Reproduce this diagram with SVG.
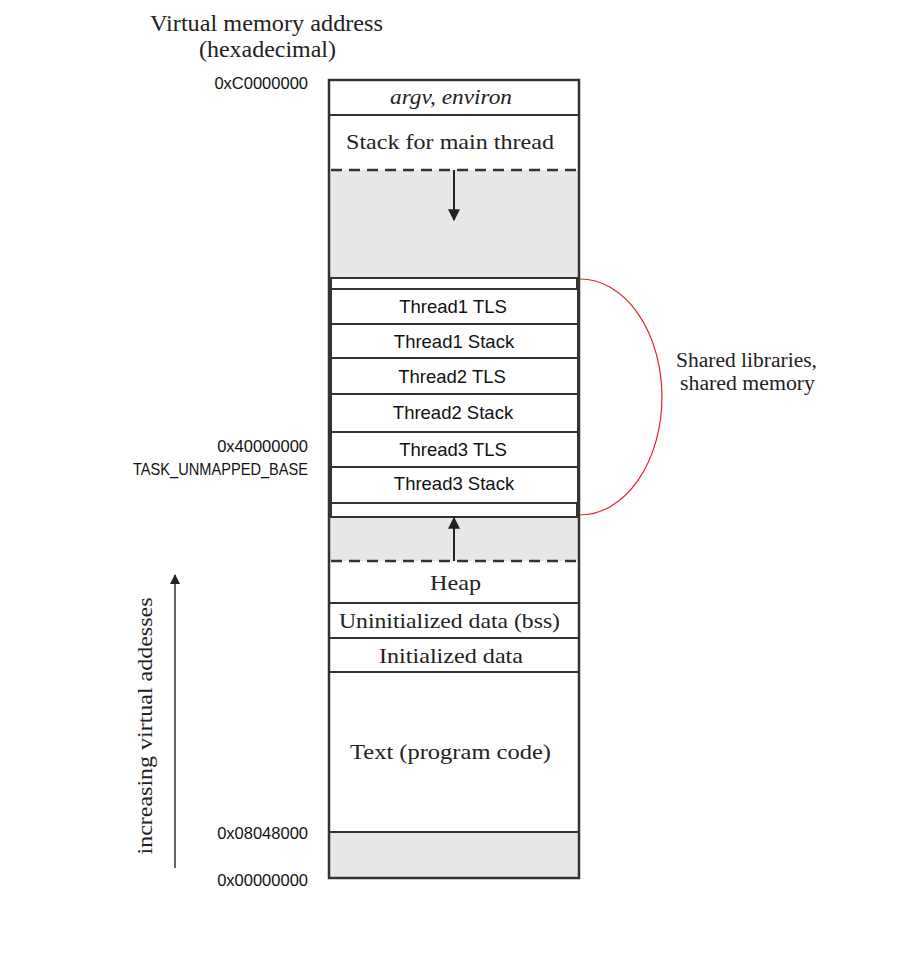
<svg xmlns="http://www.w3.org/2000/svg" width="911" height="967" viewBox="0 0 911 967">
<defs>
<style>
.serif{font-family:"Liberation Serif","Times New Roman",serif;fill:#222;}
.sans{font-family:"Liberation Sans",Arial,sans-serif;fill:#111;}
.box{fill:#fff;stroke:#333;stroke-width:2;}
.gray{fill:#e6e7e7;stroke:none;}
.dash{stroke:#3a2e2e;stroke-width:2.5;stroke-dasharray:11,7;fill:none;}
.line{stroke:#333;stroke-width:2;fill:none;}
</style>
<marker id="ah2" viewBox="0 0 10 10" refX="9" refY="5" markerWidth="18" markerHeight="12" orient="auto" markerUnits="userSpaceOnUse">
<path d="M0,0 L10,5 L0,10 z" fill="#222"/>
</marker>
<marker id="ah3" viewBox="0 0 10 10" refX="9" refY="5" markerWidth="14" markerHeight="10" orient="auto" markerUnits="userSpaceOnUse">
<path d="M0,0 L10,5 L0,10 z" fill="#222"/>
</marker>
</defs>
<rect width="911" height="967" fill="#fff"/>

<g id="title">
<text class="serif" x="150" y="31" font-size="23" textLength="233" lengthAdjust="spacingAndGlyphs">Virtual memory address</text>
<text class="serif" x="199" y="57" font-size="23" textLength="137" lengthAdjust="spacingAndGlyphs">(hexadecimal)</text>
</g>

<g id="addr-labels" class="sans" font-size="16.5" text-anchor="end">
<text x="308" y="89">0xC0000000</text>
<text x="308" y="452">0x40000000</text>
<text x="308" y="475" textLength="175" lengthAdjust="spacingAndGlyphs">TASK_UNMAPPED_BASE</text>
<text x="308" y="839">0x08048000</text>
<text x="308" y="886">0x00000000</text>
</g>

<g id="column">
<rect class="gray" x="329" y="170" width="250" height="108"/>
<rect class="gray" x="329" y="517" width="250" height="44"/>
<rect class="gray" x="329" y="832" width="250" height="46"/>
</g>

<g id="argv"><rect class="box" x="329" y="80" width="250" height="35"/>
<text class="serif" x="390" y="104" font-size="21" font-style="italic" textLength="122" lengthAdjust="spacingAndGlyphs">argv, environ</text></g>
<g id="main-stack">
<text class="serif" x="346" y="149" font-size="22" textLength="208" lengthAdjust="spacingAndGlyphs">Stack for main thread</text></g>

<g id="strip-top"><rect class="box" x="331" y="278" width="246" height="11"/></g>
<g id="t1tls"><rect class="box" x="331" y="289" width="247" height="35"/>
<text class="sans" x="453" y="313" font-size="18.5" text-anchor="middle">Thread1 TLS</text></g>
<g id="t1stack"><rect class="box" x="331" y="324" width="247" height="34"/>
<text class="sans" x="454" y="348" font-size="18.5" text-anchor="middle">Thread1 Stack</text></g>
<g id="t2tls"><rect class="box" x="331" y="358" width="247" height="36"/>
<text class="sans" x="452" y="383" font-size="18.5" text-anchor="middle">Thread2 TLS</text></g>
<g id="t2stack"><rect class="box" x="331" y="394" width="247" height="38"/>
<text class="sans" x="453" y="419" font-size="18.5" text-anchor="middle">Thread2 Stack</text></g>
<g id="t3tls"><rect class="box" x="331" y="432" width="247" height="35"/>
<text class="sans" x="453" y="456" font-size="18.5" text-anchor="middle">Thread3 TLS</text></g>
<g id="t3stack"><rect class="box" x="331" y="467" width="247" height="36"/>
<text class="sans" x="454" y="490" font-size="18.5" text-anchor="middle">Thread3 Stack</text></g>
<g id="strip-bottom"><rect class="box" x="331" y="503" width="246" height="14"/></g>

<g id="heap">
<text class="serif" x="430" y="590" font-size="22" textLength="51" lengthAdjust="spacingAndGlyphs">Heap</text></g>
<g id="bss"><rect class="box" x="329" y="603" width="250" height="35"/>
<text class="serif" x="339" y="628" font-size="22" textLength="221" lengthAdjust="spacingAndGlyphs">Uninitialized data (bss)</text></g>
<g id="idata"><rect class="box" x="329" y="638" width="250" height="34"/>
<text class="serif" x="379" y="663" font-size="22" textLength="144" lengthAdjust="spacingAndGlyphs">Initialized data</text></g>
<g id="text"><text class="serif" x="350" y="759" font-size="22" textLength="201" lengthAdjust="spacingAndGlyphs">Text (program code)</text></g>

<g id="outline">
<rect x="329" y="80" width="250" height="798" fill="none" stroke="#333" stroke-width="2.5"/>
<line class="line" x1="329" y1="832" x2="579" y2="832"/>
<line class="dash" x1="331" y1="170" x2="578" y2="170"/>
<line class="dash" x1="331" y1="561" x2="578" y2="561"/>
</g>

<g id="shared-label">
<text class="serif" x="676" y="367" font-size="20" textLength="141" lengthAdjust="spacingAndGlyphs">Shared libraries,</text>
<text class="serif" x="680" y="390" font-size="20" textLength="135" lengthAdjust="spacingAndGlyphs">shared memory</text>
</g>

<g id="axis">
<text class="serif" font-size="22" text-anchor="middle" textLength="257" lengthAdjust="spacingAndGlyphs" transform="translate(152,726) rotate(-90)">increasing virtual addesses</text>
</g>

<g id="connectors">
<line x1="454" y1="170" x2="454" y2="220" stroke="#222" stroke-width="2" marker-end="url(#ah2)"/>
<line x1="454" y1="561" x2="454" y2="518" stroke="#222" stroke-width="2" marker-end="url(#ah2)"/>
<line x1="175" y1="868" x2="175" y2="575" stroke="#333" stroke-width="1.5" marker-end="url(#ah3)"/>
<path d="M580,279 A82,118 0 0 1 580,515" fill="none" stroke="#e8202a" stroke-width="1.2"/>
</g>
</svg>
